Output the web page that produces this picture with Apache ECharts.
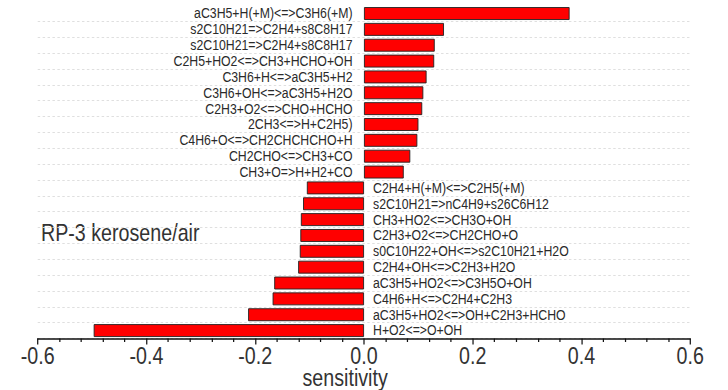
<!DOCTYPE html>
<html>
<head>
<meta charset="utf-8">
<script src="https://cdn.jsdelivr.net/npm/echarts@6/dist/echarts.min.js"></script>
<style>
html,body{margin:0;padding:0;background:#fff;overflow:hidden;width:728px;height:390px;}
/* the reference glyphs are horizontally condensed (Arial Narrow look);
   render on a wider canvas and condense it horizontally */
#chart{width:888px;height:390px;transform:scaleX(0.81982);transform-origin:0 0;}
</style>
</head>
<body>
<div id="chart"></div>
<script>
const reactions = [
  "aC3H5+H(+M)<=>C3H6(+M)",
  "s2C10H21=>C2H4+s8C8H17",
  "s2C10H21=>C2H4+s8C8H17",
  "C2H5+HO2<=>CH3+HCHO+OH",
  "C3H6+H<=>aC3H5+H2",
  "C3H6+OH<=>aC3H5+H2O",
  "C2H3+O2<=>CHO+HCHO",
  "2CH3<=>H+C2H5)",
  "C4H6+O<=>CH2CHCHCHO+H",
  "CH2CHO<=>CH3+CO",
  "CH3+O=>H+H2+CO",
  "C2H4+H(+M)<=>C2H5(+M)",
  "s2C10H21=>nC4H9+s26C6H12",
  "CH3+HO2<=>CH3O+OH",
  "C2H3+O2<=>CH2CHO+O",
  "s0C10H22+OH<=>s2C10H21+H2O",
  "C2H4+OH<=>C2H3+H2O",
  "aC3H5+HO2<=>C3H5O+OH",
  "C4H6+H<=>C2H4+C2H3",
  "aC3H5+HO2<=>OH+C2H3+HCHO",
  "H+O2<=>O+OH"
];
const sensitivity = [
  0.378, 0.147, 0.130, 0.129, 0.115, 0.109, 0.107, 0.100, 0.098, 0.085, 0.073,
  -0.105, -0.112, -0.116, -0.117, -0.118, -0.121, -0.165, -0.168, -0.213, -0.497
];
const xTicks = { min: -0.6, max: 0.6, interval: 0.2 };
const axisTitle = "sensitivity";
const caseLabel = "RP-3 kerosene/air";

const FONT = "'Liberation Sans', Arial, sans-serif";

const chart = echarts.init(document.getElementById('chart'), null, {renderer: 'svg', width: 888, height: 390});
chart.setOption({
  backgroundColor: '#ffffff',
  animation: false,
  grid: { left: 46, right: 46, top: 5.6, bottom: 51.5, containLabel: false, outerBoundsMode: 'none' },
  xAxis: {
    type: 'value',
    min: xTicks.min, max: xTicks.max, interval: xTicks.interval,
    axisLine: { show: true, onZero: false, lineStyle: { color: '#111', width: 1.5 } },
    axisTick: { show: true, inside: false, length: 6, lineStyle: { color: '#111', width: 1.5 } },
    minorTick: { show: true, splitNumber: 5, length: 3.5, lineStyle: { color: '#111', width: 1.5 } },
    splitLine: { show: false },
    axisLabel: {
      color: '#333', fontFamily: FONT, fontSize: 24, lineHeight: 20, margin: 7,
      formatter: v => (Math.abs(v) < 1e-9 ? 0 : v).toFixed(1)
    },
    name: axisTitle,
    nameLocation: 'middle',
    nameGap: 29,
    nameMoveOverlap: false,
    nameTextStyle: { color: '#333', fontFamily: FONT, fontSize: 24, lineHeight: 20, padding: [0, 46, 0, 0] }
  },
  yAxis: {
    type: 'category',
    inverse: true,
    data: reactions.map((r, i) => i),
    axisLine: { show: false },
    axisTick: { show: false },
    axisLabel: { show: false },
    splitLine: {
      show: true,
      interval: (i) => i > 0,
      lineStyle: { color: '#dcdcdc', type: [3, 3], width: 1 }
    }
  },
  series: [{
    type: 'bar',
    barWidth: 13,
    data: sensitivity.map(v => ({
      value: v,
      label: {
        show: true,
        position: v >= 0 ? 'left' : 'right',
        distance: v >= 0 ? 14 : 11
      }
    })),
    itemStyle: { color: '#ff0000', borderColor: '#222', borderWidth: 1 },
    label: {
      color: '#2a2a2a', fontFamily: FONT, fontSize: 15,
      formatter: p => reactions[p.dataIndex]
    }
  }],
  graphic: [{
    type: 'text',
    left: 50, top: 221,
    style: { text: caseLabel, fill: '#333', font: "24px 'Liberation Sans', Arial, sans-serif" }
  }]
});
</script>
</body>
</html>
